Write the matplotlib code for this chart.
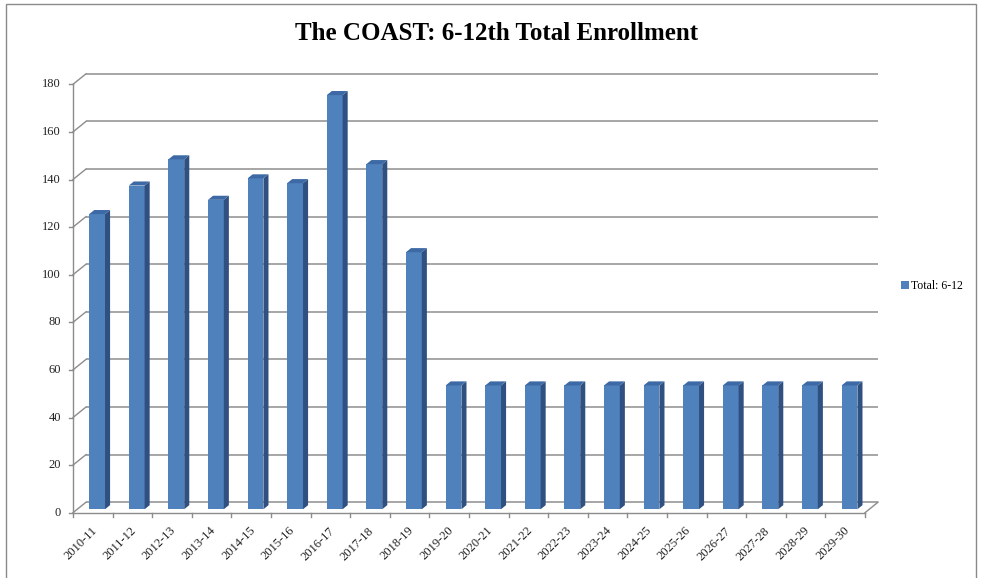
import matplotlib
matplotlib.use("Agg")
import matplotlib.pyplot as plt
from matplotlib.patches import Polygon, Rectangle
from matplotlib.lines import Line2D
import matplotlib.transforms as mtransforms
import numpy as np

# ---- data ----
years = ["2010-11", "2011-12", "2012-13", "2013-14", "2014-15", "2015-16",
         "2016-17", "2017-18", "2018-19", "2019-20", "2020-21", "2021-22",
         "2022-23", "2023-24", "2024-25", "2025-26", "2026-27", "2027-28",
         "2028-29", "2029-30"]
total_6_12 = [124, 136, 147, 130, 139, 137, 174, 145, 108, 52,
              52, 52, 52, 52, 52, 52, 52, 52, 52, 52]
y_ticks = [0, 20, 40, 60, 80, 100, 120, 140, 160, 180]
series_name = "Total: 6-12"
title = "The COAST: 6-12th Total Enrollment"

# ---- styling ----
W, H, DPI = 985, 578, 100
FRONT = "#4f81bd"
SIDE = "#2f5080"
TOP = "#3d69a5"
GRID = "#a6a6a6"
AXIS = "#8c8c8c"
SERIF = ["Liberation Serif", "DejaVu Serif"]

# pseudo-3D depth: pixel shift of the back wall, and of the bar front/back planes
WALL = np.array([13.0, 10.5])
BAR_FRONT = 0.33
BAR_BACK = 0.72
BAR_W = 0.4
IDENT = mtransforms.IdentityTransform()

fig = plt.figure(figsize=(W / DPI, H / DPI), dpi=DPI)
ax = fig.add_axes([73 / W, 1 - 512.7 / H, (865 - 73) / W, (512.7 - 84.3) / H])
n = len(years)
ax.set_xlim(-0.5, n - 0.5)
ax.set_ylim(0, 180)
ax.axis("off")


def shifted(depth):
    dx, dy = WALL * depth
    return ax.transData + mtransforms.ScaledTranslation(dx / DPI, dy / DPI,
                                                          fig.dpi_scale_trans)


def disp(x, v, depth):
    p = ax.transData.transform((x, v))
    return p + WALL * depth


def seg(p, q, **kw):
    fig.add_artist(Line2D([p[0], q[0]], [p[1], q[1]], transform=IDENT, **kw))


# back wall gridlines and left-wall connectors
for v in y_ticks:
    ax.plot([-0.5, n - 0.5], [v, v], color=GRID, lw=1.4, clip_on=False,
            transform=shifted(1.0), solid_capstyle="butt", zorder=1)
    seg(disp(-0.5, v, 0), disp(-0.5, v, 1.0), color=AXIS, lw=1.0, zorder=1)

# floor right edge
seg(disp(n - 0.5, 0, 0), disp(n - 0.5, 0, 1.0), color=AXIS, lw=1.0, zorder=1)

# front axes lines
ax.plot([-0.5, -0.5], [0, 180], color=AXIS, lw=1.0, zorder=2, clip_on=False)
ax.plot([-0.5, n - 0.5], [0, 0], color=AXIS, lw=1.0, zorder=2, clip_on=False)

# value ticks and labels
lab_off = mtransforms.offset_copy(ax.transData, fig=fig, x=-12, y=0, units="dots")
for v in y_ticks:
    a = disp(-0.5, v, 0)
    seg(a - np.array([4, 0]), a, color=AXIS, lw=1.0)
    ax.text(-0.5, v, str(v), transform=lab_off, ha="right", va="center",
            fontsize=9, family=SERIF, color="#222222")

# category ticks and labels
for i in range(n + 1):
    a = disp(i - 0.5, 0, 0)
    seg(a, a - np.array([0, 4]), color=AXIS, lw=1.0)
xlab = mtransforms.offset_copy(ax.transData, fig=fig, x=-2, y=-12, units="dots")
for i, lab in enumerate(years):
    ax.text(i, 0, lab, transform=xlab, ha="right", va="top", rotation=45,
            rotation_mode="anchor", fontsize=9, family=SERIF, color="#222222")

# bars: front faces through the bar API, side and top faces as depth polygons
xs = np.arange(n)
bars = ax.bar(xs, total_6_12, width=BAR_W, color=FRONT, transform=shifted(BAR_FRONT),
              zorder=5, label=series_name, linewidth=0)
for x, v in zip(xs, total_6_12):
    l, r = x - BAR_W / 2, x + BAR_W / 2
    side = [disp(r, 0, BAR_FRONT), disp(r, v, BAR_FRONT),
            disp(r, v, BAR_BACK), disp(r, 0, BAR_BACK)]
    top = [disp(l, v, BAR_FRONT), disp(r, v, BAR_FRONT),
           disp(r, v, BAR_BACK), disp(l, v, BAR_BACK)]
    fig.add_artist(Polygon(side, closed=True, facecolor=SIDE, edgecolor="none",
                           transform=IDENT, zorder=4))
    fig.add_artist(Polygon(top, closed=True, facecolor=TOP, edgecolor="none",
                           transform=IDENT, zorder=4))

# title
fig.text(497 / W, 1 - 33 / H, title, ha="center", va="center", fontsize=18,
         fontweight="bold", family=SERIF, color="black")

# legend
fig.legend(handles=[bars], labels=[series_name], loc="center left",
           bbox_to_anchor=(890 / W, 1 - 286 / H), frameon=False,
           handlelength=0.7, handleheight=0.7, handletextpad=0.15,
           prop={"family": SERIF, "size": 8.5})

# chart frame
fig.add_artist(Rectangle((5.5, -20), 970, 594, fill=False,
                         edgecolor="#8a8a8a", lw=1.0, transform=IDENT))

fig.savefig("out.png", dpi=DPI)
